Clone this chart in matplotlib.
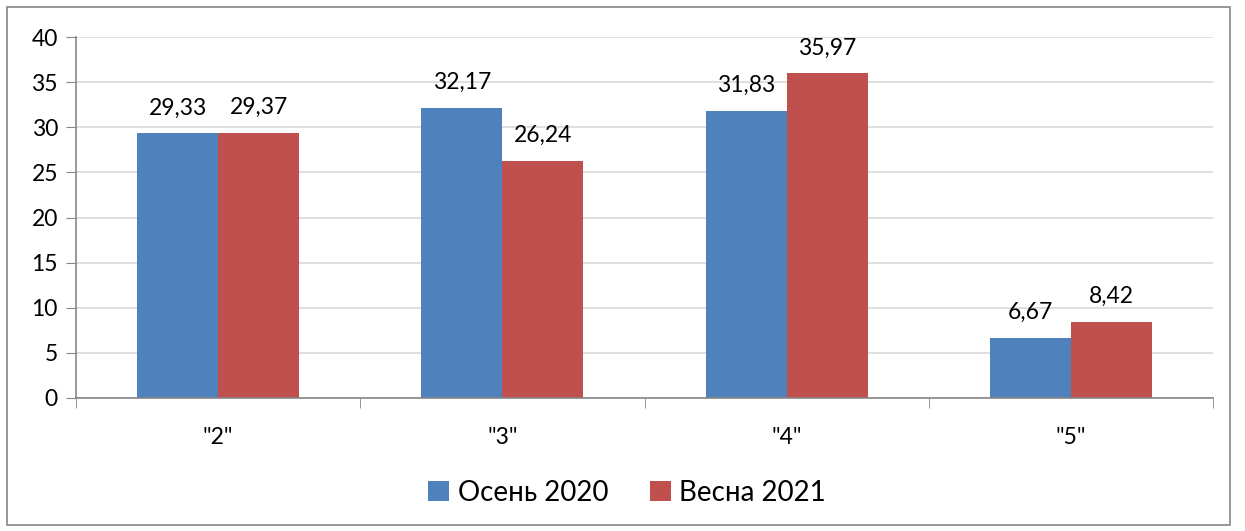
import numpy as np
from matplotlib import pyplot as plt
import matplotlib.patches as mpatches

categories = ['"2"', '"3"', '"4"', '"5"']
autumn_2020 = [29.33, 32.17, 31.83, 6.67]
spring_2021 = [29.37, 26.24, 35.97, 8.42]
series_names = ['Осень 2020', 'Весна 2021']
yticks = [0, 5, 10, 15, 20, 25, 30, 35, 40]

plt.rcParams['font.family'] = ['Lato', 'DejaVu Sans']
fig = plt.figure(figsize=(12.45, 5.31), dpi=100)
ax = fig.add_axes([76/1245, 1-398/531, (1213-76)/1245, (398-37)/531])

x = np.arange(len(categories))
w = 0.285
b1 = ax.bar(x - w/2, autumn_2020, w, color='#4f81bd', label=series_names[0])
b2 = ax.bar(x + w/2, spring_2021, w, color='#c0504d', label=series_names[1])
for bars, vals in ((b1, autumn_2020), (b2, spring_2021)):
    for r, v in zip(bars, vals):
        ax.text(r.get_x() + r.get_width()/2, v + 1.65, '{:.2f}'.format(v).replace('.', ','),
                ha='center', va='bottom', fontsize=16.5)

ax.set_xlim(-0.5, 3.5)
ax.set_ylim(0, 40)
ax.set_yticks(yticks)
ax.set_xticks(x)
ax.set_xticklabels(categories)
ax.set_xticks(np.arange(-0.5, 4, 1), minor=True)
ax.tick_params(axis='x', which='major', length=0, pad=21, labelsize=16.5)
ax.tick_params(axis='x', which='minor', length=7, color='#868686', direction='out')
ax.tick_params(axis='y', length=7, color='#868686', labelsize=16.5, pad=6)
ax.yaxis.grid(True, color='#d9d9d9', linewidth=1.2)
ax.set_axisbelow(True)
for s in ('top', 'right'):
    ax.spines[s].set_visible(False)
for s in ('left', 'bottom'):
    ax.spines[s].set_color('#868686')
    ax.spines[s].set_linewidth(1.2)

ax.legend(loc='center', bbox_to_anchor=(627/1245, 1-493/531), bbox_transform=fig.transFigure,
          ncol=2, frameon=False, fontsize=20, handlelength=0.75, handleheight=0.75,
          handletextpad=0.3, columnspacing=1.5)

fig.patches.append(mpatches.Rectangle((7/1245, 6/531), 1223/1245, 518/531, transform=fig.transFigure,
                                      fill=False, edgecolor='#868686', linewidth=1.2))
plt.savefig('out.png')
